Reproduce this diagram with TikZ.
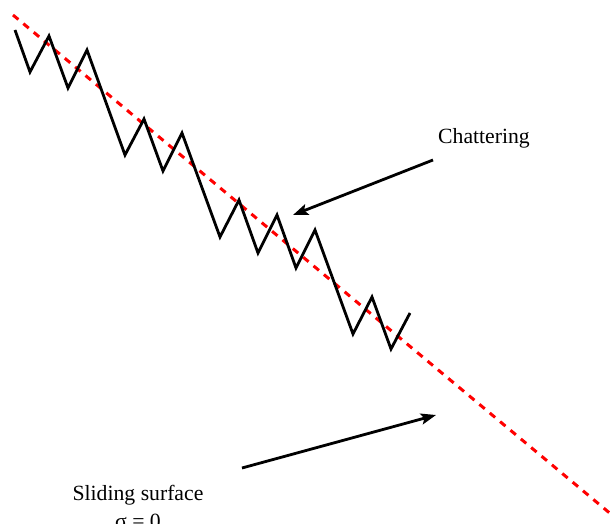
\documentclass[tikz,border=0pt]{standalone}
\usepackage{fontspec}
\setmainfont{Liberation Serif}
\usetikzlibrary{arrows.meta}
\begin{document}
\begin{tikzpicture}[x=1pt,y=-1pt,
  zig/.style={line width=2.8pt, line join=miter, black},
  surf/.style={line width=3pt, red, dash pattern=on 7pt off 6.5pt},
  pointer/.style={line width=2.8pt, -{Stealth[length=15pt,width=11pt,inset=3pt]}},
  lbl/.style={font=\fontsize{21.7}{28}\selectfont, align=center, inner sep=0pt}]
\useasboundingbox (0,0) rectangle (610,524);
% sliding surface
\coordinate (s0) at (13,15);
\coordinate (s1) at (612,515);
\draw[surf] (s0) -- (s1);
% chattering trajectory
\foreach \n/\x/\y in {p0/15/30, p1/30/72, p2/49/36, p3/68/88, p4/87/50, p5/125/155,
  p6/144/119, p7/163/171, p8/182/133, p9/220/237, p10/239/200, p11/258/253,
  p12/277/215, p13/296/268, p14/315/230, p15/353/334, p16/372/297, p17/391/349, p18/410/313}
  {\coordinate (\n) at (\x,\y);}
\draw[zig] (p0) -- (p1) -- (p2) -- (p3) -- (p4) -- (p5) -- (p6) -- (p7) -- (p8) -- (p9)
  -- (p10) -- (p11) -- (p12) -- (p13) -- (p14) -- (p15) -- (p16) -- (p17) -- (p18);
% labels
\node[lbl, anchor=base] (chat) at (484,143) {Chattering};
\node[lbl, anchor=base] (slide) at (138,528) {Sliding surface\\σ = 0};
% arrows
\coordinate (a1s) at (433,160);
\coordinate (a1e) at (293,215);
\draw[pointer] (a1s) -- (a1e);
\coordinate (a2s) at (242,468);
\coordinate (a2e) at (436,415);
\draw[pointer] (a2s) -- (a2e);
\end{tikzpicture}
\end{document}
